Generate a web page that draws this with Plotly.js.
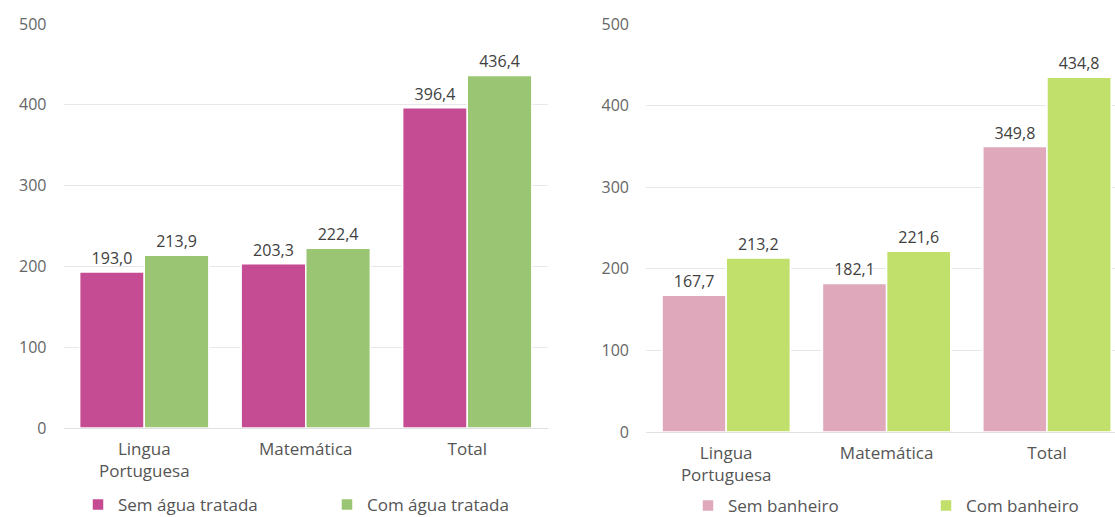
<!DOCTYPE html>
<html>
<head>
<meta charset="utf-8">
<script src="https://cdn.plot.ly/plotly-3.0.1.min.js"></script>
<style>html,body{margin:0;padding:0;background:#fff;}#chart{width:1115px;height:517px;}</style>
</head>
<body>
<div id="chart"></div>
<script>
const categories = ['Lingua<br>Portuguesa', 'Matemática', 'Total'];
const semAgua = [193.0, 203.3, 396.4];
const comAgua = [213.9, 222.4, 436.4];
const semBanheiro = [167.7, 182.1, 349.8];
const comBanheiro = [213.2, 221.6, 434.8];
const yTicks = [0, 100, 200, 300, 400, 500];

const FONT = 'Open Sans, Lato, DejaVu Sans, sans-serif';
const textFont = {family: FONT, size: 16, color: '#404040'};

function barTrace(name, y, color, xa, ya, legend) {
  return {
    type: 'bar', name: name, x: categories, y: y,
    xaxis: xa, yaxis: ya, legend: legend,
    marker: {color: color, line: {color: '#ffffff', width: 1.5}},
    texttemplate: '%{y:.1f}', textposition: 'outside', textfont: textFont,
    cliponaxis: false, hoverinfo: 'x+y'
  };
}

const data = [
  barTrace('Sem água tratada', semAgua, '#C54B93', 'x', 'y', 'legend'),
  barTrace('Com água tratada', comAgua, '#9AC673', 'x', 'y', 'legend'),
  barTrace('Sem banheiro', semBanheiro, '#DFA8BB', 'x2', 'y2', 'legend2'),
  barTrace('Com banheiro', comBanheiro, '#C1DF6B', 'x2', 'y2', 'legend2')
];

const W = 1115, H = 517;
const yAxisBase = {
  range: [0, 500], tickvals: yTicks, showgrid: true, gridcolor: '#E8E8E8', gridwidth: 1,
  zeroline: true, zerolinecolor: '#E0E0E0', zerolinewidth: 1, showline: false, automargin: false,
  tickfont: {family: FONT, size: 16, color: '#666666'}, ticklabelstandoff: 16, fixedrange: true
};
const xAxisBase = {
  type: 'category', showgrid: false, zeroline: false, showline: false, ticks: '', automargin: false,
  tickfont: {family: FONT, size: 17, color: '#555555'}, ticklabelstandoff: 9, fixedrange: true
};

const layout = {
  width: W, height: H,
  margin: {l: 0, r: 0, t: 24, b: 85, pad: 0, autoexpand: false},
  paper_bgcolor: '#ffffff', plot_bgcolor: '#ffffff',
  separators: ',.',
  barmode: 'group', bargap: 0.2, bargroupgap: 0,
  font: {family: FONT, color: '#555555'},
  xaxis: Object.assign({}, xAxisBase, {domain: [63.5 / W, 548 / W], range: [-0.5, 2.5], anchor: 'y'}),
  yaxis: Object.assign({}, yAxisBase, {domain: [4 / 408, 1], anchor: 'x'}),
  xaxis2: Object.assign({}, xAxisBase, {domain: [646 / W, 1], range: [-0.5, 2.424], anchor: 'y2'}),
  yaxis2: Object.assign({}, yAxisBase, {domain: [0, 1], anchor: 'x2'}),
  legend: {
    orientation: 'h', x: 78 / W, xanchor: 'left', y: -73 / 408, yanchor: 'middle',
    entrywidth: 204, entrywidthmode: 'pixels',
    font: {family: FONT, size: 17, color: '#555555'}, bgcolor: 'rgba(0,0,0,0)', traceorder: 'normal'
  },
  legend2: {
    orientation: 'h', x: 688 / W, xanchor: 'left', y: -74 / 408, yanchor: 'middle',
    entrywidth: 193, entrywidthmode: 'pixels',
    font: {family: FONT, size: 17, color: '#555555'}, bgcolor: 'rgba(0,0,0,0)', traceorder: 'normal'
  },
  showlegend: true
};

Plotly.newPlot('chart', data, layout, {displayModeBar: false, staticPlot: true});
</script>
</body>
</html>
